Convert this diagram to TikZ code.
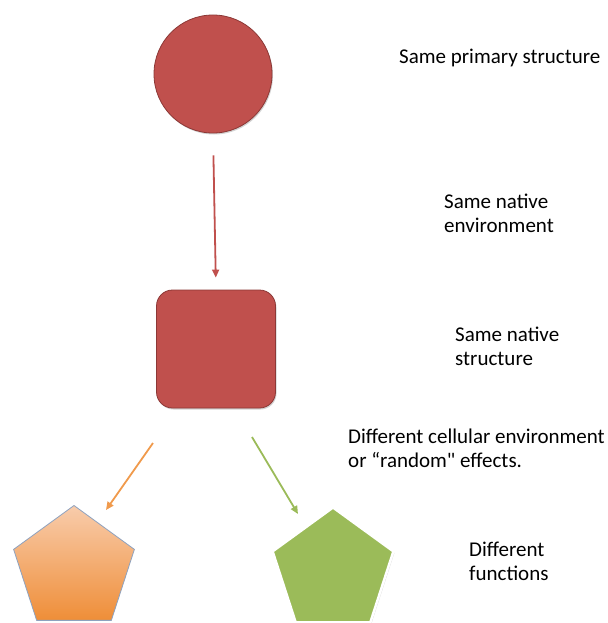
\documentclass[tikz,border=0pt]{standalone}
\usepackage{fontspec}
\setmainfont{Carlito}[Ligatures=TeXOff]
\usetikzlibrary{shapes.geometric,arrows.meta,shadows}
\definecolor{redfill}{HTML}{C0504D}
\definecolor{redline}{HTML}{8C3836}
\definecolor{orangetop}{HTML}{F8CCAC}
\definecolor{orangebot}{HTML}{EF8E38}
\definecolor{orangearrow}{HTML}{F09A4C}
\definecolor{greenfill}{HTML}{9BBB59}
\definecolor{pentline}{HTML}{8EA2BF}
\tikzset{
  shade1/.style={drop shadow={shadow xshift=1pt,shadow yshift=-1.5pt,fill=black!35,opacity=0.5}},
  lbl/.style={font=\fontsize{21}{24}\selectfont, align=left, inner sep=0pt, anchor=west, text=black},
  arr/.style={line width=1.8pt, -{Triangle[length=8pt,width=7pt]}},
}
\begin{document}
\begin{tikzpicture}[x=1pt,y=-1pt]
\useasboundingbox (0,0) rectangle (607,623);
% shapes
\node[circle, minimum size=118pt, inner sep=0pt, fill=redfill, draw=redline, line width=0.8pt, shade1] (c) at (213,74) {};
\node[rectangle, rounded corners=16pt, minimum width=119pt, minimum height=118pt, inner sep=0pt, fill=redfill, draw=redline, line width=0.8pt, shade1] (s) at (216,349) {};
\node[regular polygon, regular polygon sides=5, minimum size=127pt, inner sep=0pt, top color=orangetop, bottom color=orangebot, draw=pentline, line width=0.8pt] (p1) at (74,569) {};
\node[regular polygon, regular polygon sides=5, minimum size=127pt, inner sep=0pt, fill=greenfill, draw=white, line width=2.5pt, shade1] (p2) at (333,571) {};
% arrows
\draw[arr, redfill, shorten <=22pt, shorten >=12pt] (c.south) -- (s.north);
\coordinate (o1) at (153,443);
\coordinate (o2) at (106,510);
\coordinate (g1) at (252,437);
\coordinate (g2) at (298,514);
\draw[arr, orangearrow] (o1) -- (o2);
\draw[arr, greenfill] (g1) -- (g2);
% labels
\node[lbl] (t1) at (399,58) {Same primary structure};
\node[lbl] (t2) at (444,213) {Same native\\environment};
\node[lbl] (t3) at (455,346) {Same native\\structure};
\node[lbl] (t4) at (348,448) {Different cellular environment\\or “random" effects.};
\node[lbl] (t5) at (469,561) {Different\\functions};
\end{tikzpicture}
\end{document}
